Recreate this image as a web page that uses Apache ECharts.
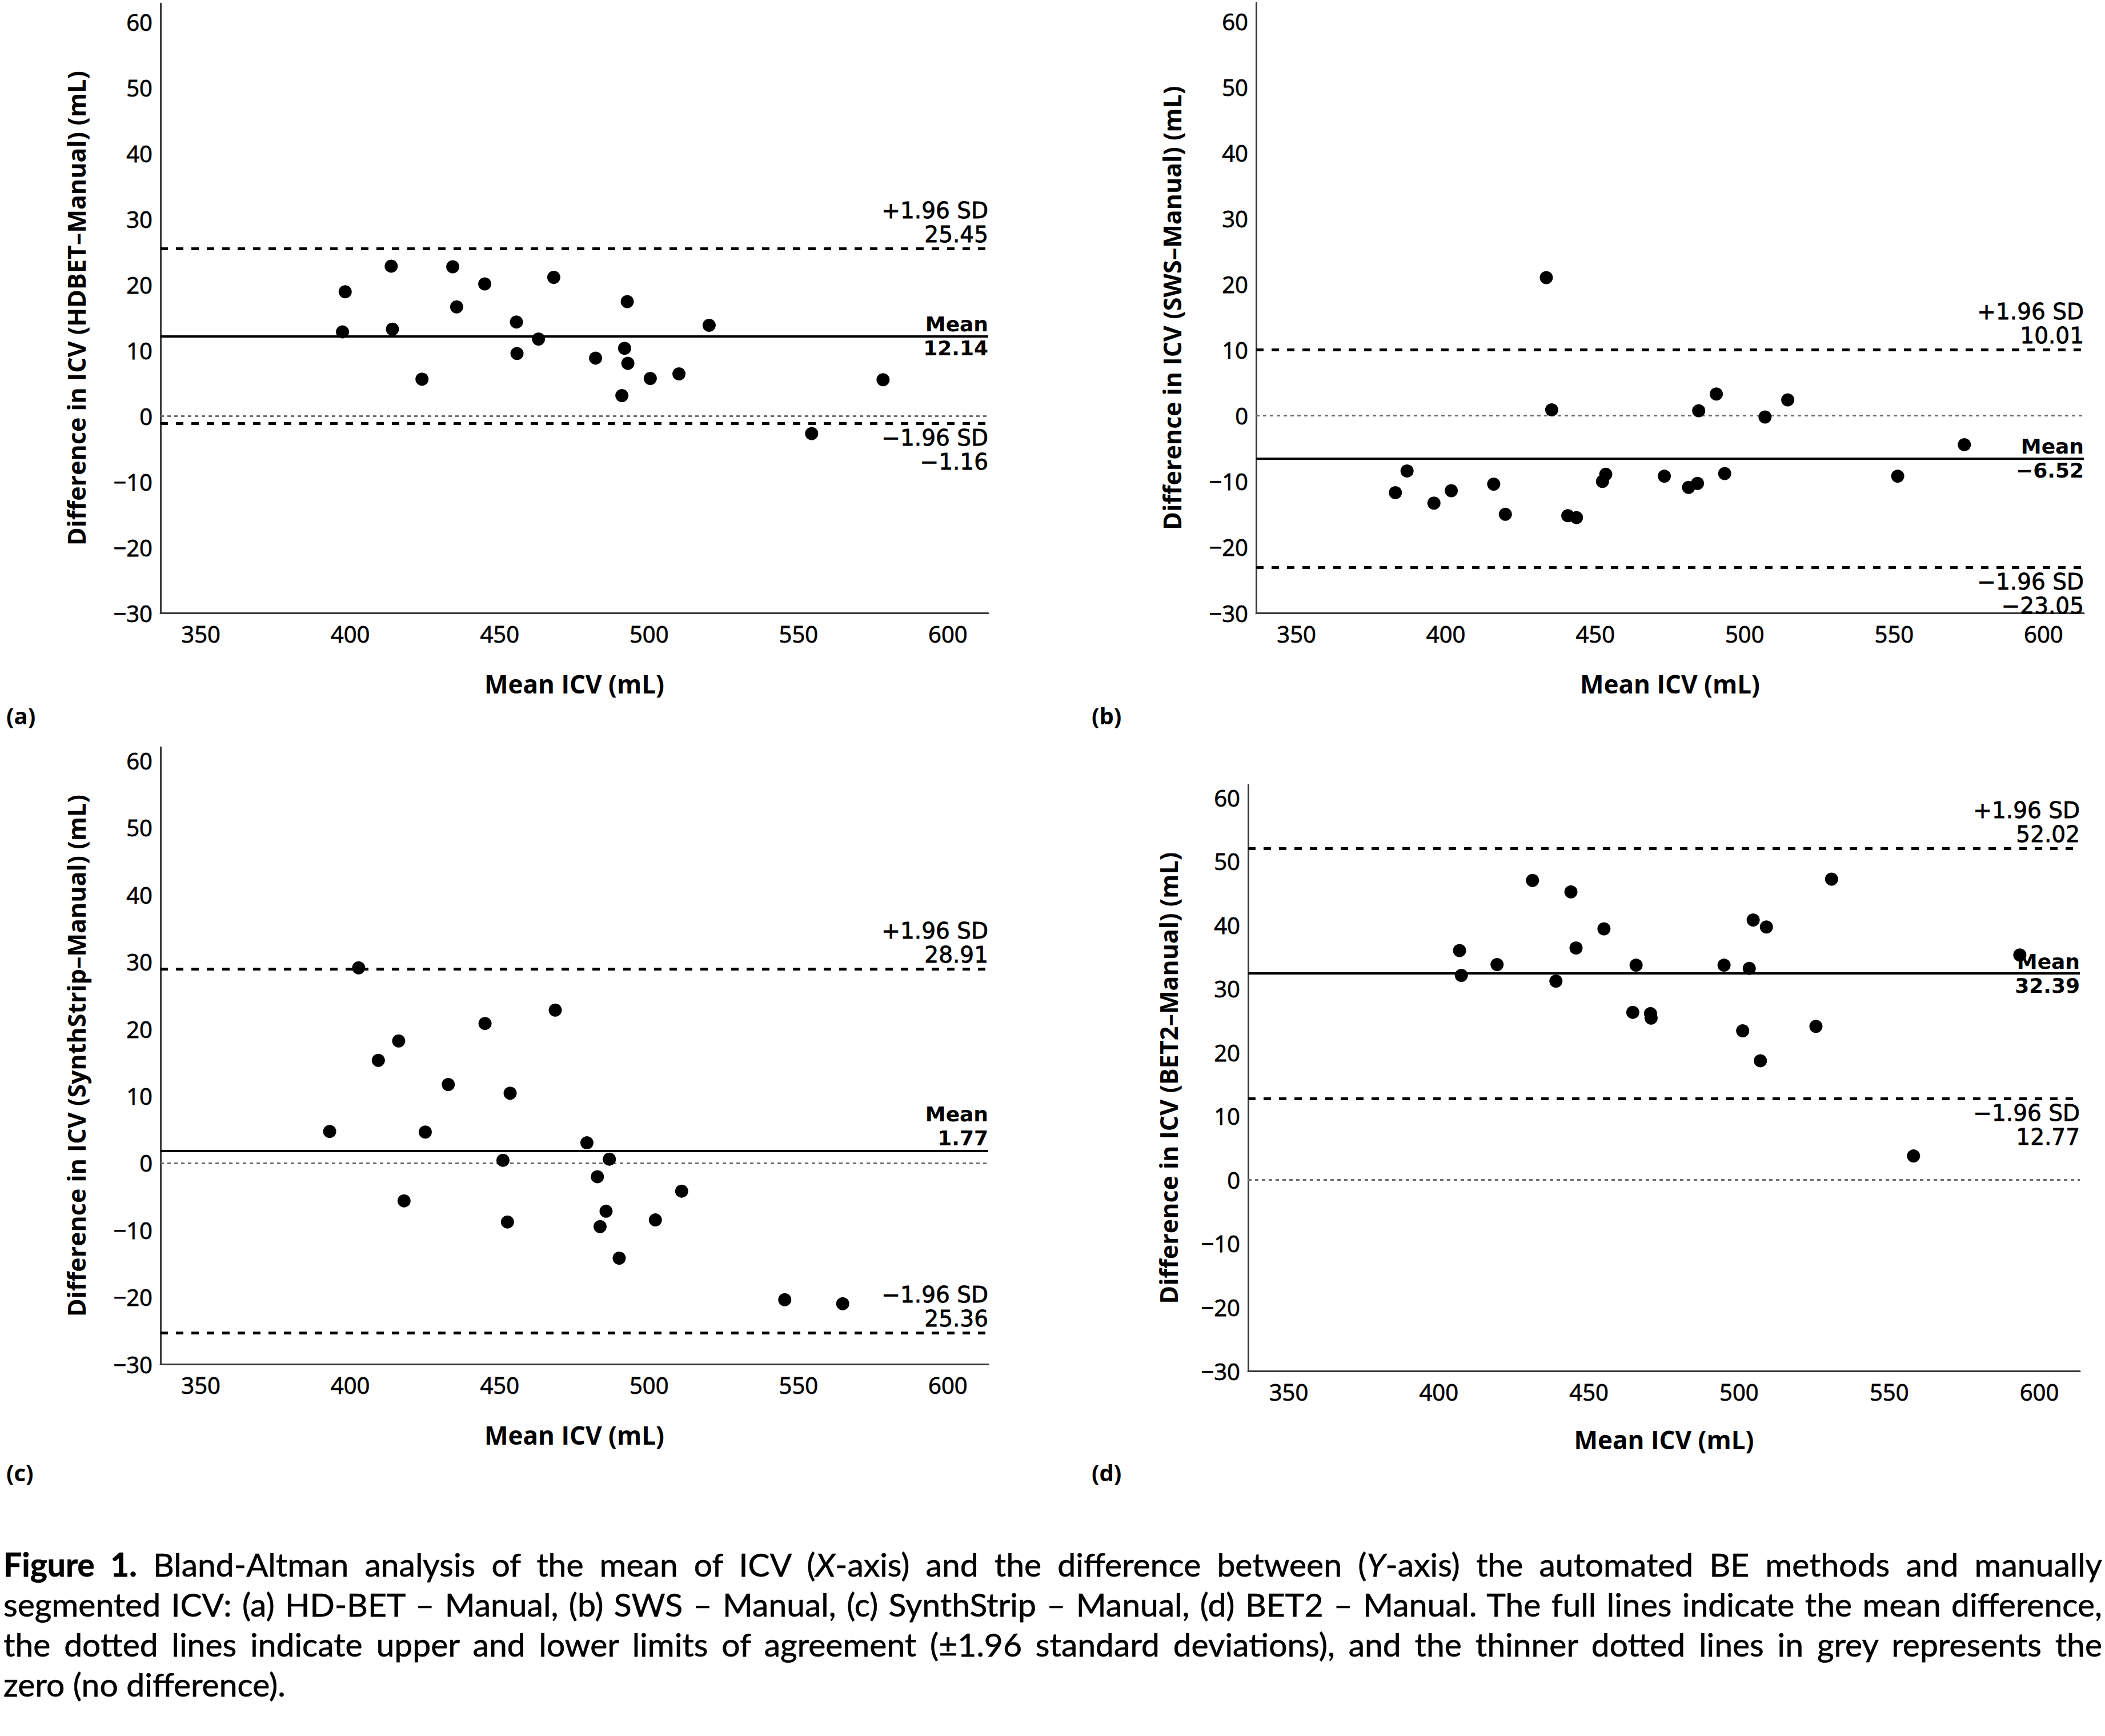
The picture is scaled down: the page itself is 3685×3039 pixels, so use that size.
<!DOCTYPE html>
<html>
<head>
<meta charset="utf-8">
<script src="https://cdn.jsdelivr.net/npm/echarts@6/dist/echarts.min.js"></script>
<style>
html,body{margin:0;padding:0;background:#fff;}
#chart{position:absolute;left:0;top:0;width:3685px;height:3039px;}
#caption{position:absolute;left:6px;top:2703px;width:3674px;font-family:Lato,"Open Sans",sans-serif;font-size:57px;line-height:70px;color:#000;-webkit-text-stroke:0.6px #000;}
#caption .l{text-align:justify;text-align-last:justify;}
</style>
</head>
<body>
<div id="chart"></div>
<div id="caption">
<div class="l"><b>Figure 1.</b> Bland-Altman analysis of the mean of ICV (<i>X</i>-axis) and the difference between (<i>Y</i>-axis) the automated BE methods and manually</div>
<div class="l">segmented ICV: (a) HD-BET – Manual, (b) SWS – Manual, (c) SynthStrip – Manual, (d) BET2 – Manual. The full lines indicate the mean difference,</div>
<div class="l">the dotted lines indicate upper and lower limits of agreement (±1.96 standard deviations), and the thinner dotted lines in grey represents the</div>
<div>zero (no difference).</div>
</div>
<script>
// ---------- data ----------
const xTicks = [350, 400, 450, 500, 550, 600];
const yTicks = [-30, -20, -10, 0, 10, 20, 30, 40, 50, 60];

const panelLetters = ['(a)', '(b)', '(c)', '(d)'];
const yTitles = [
  'Difference in ICV (HDBET\u2013Manual) (mL)',
  'Difference in ICV (SWS\u2013Manual) (mL)',
  'Difference in ICV (SynthStrip\u2013Manual) (mL)',
  'Difference in ICV (BET2\u2013Manual) (mL)'
];
const xTitle = 'Mean ICV (mL)';

const hdbetMean = [398.3, 397.4, 413.7, 414.1, 424.0, 434.3, 435.6, 445.0, 455.6, 455.8, 463.0, 468.1, 482.1, 492.7, 491.8, 492.9, 490.9, 500.4, 510.0, 520.1, 554.4, 578.3];
const hdbetDiff = [18.9, 12.8, 22.8, 13.2, 5.6, 22.7, 16.6, 20.1, 14.3, 9.5, 11.7, 21.1, 8.8, 17.4, 10.3, 8.0, 3.1, 5.7, 6.4, 13.8, -2.7, 5.5];

const swsMean = [383.1, 387.0, 396.0, 401.8, 416.0, 419.9, 433.6, 435.4, 440.8, 443.7, 452.4, 453.5, 473.1, 481.2, 484.2, 484.6, 490.5, 493.3, 506.8, 514.4, 551.2, 573.5];
const swsDiff = [-11.7, -8.4, -13.3, -11.4, -10.4, -15.0, 21.0, 0.9, -15.2, -15.5, -10.0, -8.9, -9.2, -10.9, -10.3, 0.75, 3.3, -8.8, -0.2, 2.4, -9.2, -4.4];

const synthMean = [393.1, 402.8, 409.4, 416.2, 418.0, 425.1, 432.8, 445.1, 451.1, 452.6, 453.5, 468.6, 479.2, 482.7, 483.6, 485.6, 486.7, 490.0, 502.1, 510.9, 545.4, 564.8];
const synthDiff = [4.7, 29.1, 15.3, 18.2, -5.65, 4.6, 11.7, 20.8, 0.4, -8.8, 10.4, 22.8, 3.0, -2.05, -9.5, -7.2, 0.57, -14.2, -8.5, -4.2, -20.4, -21.0];

const bet2Mean = [406.9, 407.5, 419.4, 431.2, 439.0, 444.0, 445.7, 455.0, 464.6, 465.7, 470.5, 470.7, 495.0, 501.2, 503.4, 504.7, 507.1, 509.1, 525.6, 530.8, 558.1, 593.5];
const bet2Diff = [36.0, 32.1, 33.8, 47.0, 31.2, 45.2, 36.4, 39.4, 26.3, 33.7, 26.1, 25.4, 33.7, 23.4, 33.2, 40.8, 18.7, 39.7, 24.1, 47.2, 3.75, 35.3];

const meanDiff = [12.14, -6.52, 1.77, 32.39];
const upperLoA = [25.45, 10.01, 28.91, 52.02];
const lowerLoA = [-1.16, -23.05, -25.36, 12.77];
const meanLabels = ['12.14', '\u22126.52', '1.77', '32.39'];
const upperLabels = ['25.45', '10.01', '28.91', '52.02'];
const lowerLabels = ['\u22121.16', '\u221223.05', '25.36', '12.77'];

const xs = [hdbetMean, swsMean, synthMean, bet2Mean];
const ys = [hdbetDiff, swsDiff, synthDiff, bet2Diff];

// ---------- layout ----------
const grids = [
  {left: 281, top: 6, width: 1449, height: 1067},
  {left: 2199, top: 5, width: 1449, height: 1068},
  {left: 281, top: 1308, width: 1449, height: 1080},
  {left: 2185, top: 1374, width: 1456, height: 1026}
];
const yMax = [62.8, 62.8, 62, 62];
const yNameGap = [126, 126, 126, 118];
const xNameGap = [102, 102, 102, 98];
const meanSplit = [true, true, false, true];
const lowerBelow = [true, true, false, true];
const letterPos = [[11, 1252], [1911, 1252], [11, 2577], [1911, 2577]];

const fmtNum = v => v < 0 ? '\u2212' + Math.abs(v) : String(v);

const heavy = {textBorderColor: '#000', textBorderWidth: 0.8};
const sdLabel = Object.assign({
  color: '#000', fontFamily: '"DejaVu Sans"', fontSize: 39, lineHeight: 42, distance: [0, 4]
}, heavy);
const meanLabelStyle = {
  color: '#000', fontFamily: '"DejaVu Sans"', fontWeight: 'bold', fontSize: 36, lineHeight: 42, distance: [0, 2]
};

const option = {
  backgroundColor: '#fff',
  animation: false,
  grid: grids.map(g => Object.assign({containLabel: false}, g)),
  xAxis: grids.map((g, i) => ({
    type: 'value', gridIndex: i, min: 336.5, max: 613.5,
    axisLine: {show: true, onZero: false, lineStyle: {color: '#3a3a3a', width: 3}},
    axisTick: {show: false}, splitLine: {show: false},
    axisLabel: Object.assign({customValues: xTicks, formatter: fmtNum, color: '#000', fontFamily: '"Open Sans"', fontSize: 40, margin: 16}, heavy),
    name: xTitle, nameLocation: 'middle', nameGap: xNameGap[i],
    nameTextStyle: {color: '#000', fontFamily: '"Open Sans"', fontWeight: 'bold', fontSize: 44}
  })),
  yAxis: grids.map((g, i) => ({
    type: 'value', gridIndex: i, min: -30, max: yMax[i],
    axisLine: {show: true, onZero: false, lineStyle: {color: '#3a3a3a', width: 3}},
    axisTick: {show: false}, splitLine: {show: false},
    axisLabel: Object.assign({customValues: yTicks, formatter: fmtNum, color: '#000', fontFamily: '"Open Sans"', fontSize: 40, margin: 14}, heavy),
    name: yTitles[i], nameLocation: 'middle', nameGap: yNameGap[i],
    nameTextStyle: {color: '#000', fontFamily: '"Open Sans"', fontWeight: 'bold', fontSize: 43}
  })),
  graphic: panelLetters.map((t, i) => ({
    type: 'text', x: letterPos[i][0], y: letterPos[i][1],
    style: {text: t, fill: '#000', font: 'bold 40px "Open Sans"', verticalAlign: 'middle'}
  })),
  series: grids.map((g, i) => {
    const lineData = [
      {yAxis: 0, lineStyle: {color: '#6e6e6e', width: 3, type: [6, 6]}, label: {show: false}},
      {yAxis: upperLoA[i], lineStyle: {color: '#000', width: 5, type: [13, 14]},
       label: Object.assign({show: true, position: 'insideEndTop', formatter: '+1.96 SD\n' + upperLabels[i]}, sdLabel)},
      {yAxis: lowerLoA[i], lineStyle: {color: '#000', width: 5, type: [13, 14]},
       label: Object.assign({show: true, position: lowerBelow[i] ? 'insideEndBottom' : 'insideEndTop', formatter: '\u22121.96 SD\n' + lowerLabels[i]}, sdLabel)},
      {yAxis: meanDiff[i], lineStyle: {color: '#000', width: 4, type: 'solid'},
       label: Object.assign({show: true, position: meanSplit[i] ? 'insideEnd' : 'insideEndTop', formatter: 'Mean\n' + meanLabels[i]}, meanLabelStyle)}
    ];
    return {
      type: 'scatter', xAxisIndex: i, yAxisIndex: i,
      data: xs[i].map((x, k) => [x, ys[i][k]]),
      symbol: 'circle', symbolSize: 23,
      itemStyle: {color: '#000', opacity: 1},
      z: 3,
      markLine: {silent: true, symbol: ['none', 'none'], data: lineData, z: 2}
    };
  })
};

const chart = echarts.init(document.getElementById('chart'), null, {renderer: 'svg', width: 3685, height: 3039});
chart.setOption(option);
</script>
</body>
</html>
